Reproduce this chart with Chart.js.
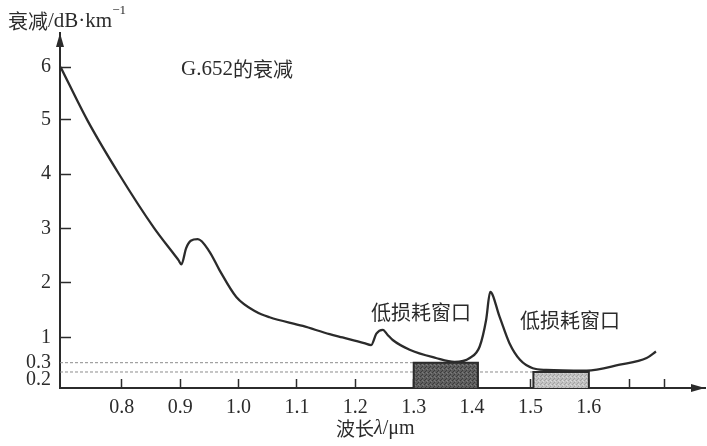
<!DOCTYPE html>
<html>
<head>
<meta charset="utf-8">
<script src="https://cdn.jsdelivr.net/npm/chart.js@4.4.1/dist/chart.umd.min.js"></script>
<style>
  html, body { margin: 0; padding: 0; background: #fff; }
  #wrap { width: 707px; height: 446px; position: relative; }
</style>
</head>
<body>
<div id="wrap"><canvas id="c" width="707" height="446"></canvas></div>
<script>
// G.652 fibre loss spectrum: wavelength (µm) and attenuation (dB/km)
const wavelength = [0.695, 0.741, 0.795, 0.855, 0.890, 0.897, 0.902, 0.910, 0.918, 0.930,
                    0.950, 0.967, 0.996, 1.030, 1.053, 1.110, 1.156, 1.178, 1.215, 1.227,
                    1.236, 1.247, 1.255, 1.264, 1.293, 1.338, 1.370, 1.396, 1.413, 1.424,
                    1.431, 1.447, 1.464, 1.482, 1.504, 1.527, 1.596, 1.653, 1.699, 1.715];
const attenuation = [6.0, 4.98, 4.0, 3.02, 2.52, 2.42, 2.34, 2.64, 2.78, 2.81,
                     2.58, 2.24, 1.74, 1.47, 1.37, 1.21, 1.06, 1.0, 0.845, 0.79,
                     1.07, 1.14, 1.05, 0.93, 0.66, 0.43, 0.32, 0.43, 0.75, 1.32,
                     1.83, 1.38, 0.84, 0.38, 0.24, 0.222, 0.214, 0.278, 0.43, 0.61];

// low-loss windows: wavelength span and loss level
const windowStart = [1.30, 1.505];
const windowEnd = [1.41, 1.60];
const windowLoss = [0.3, 0.2];
const windowName = ['低损耗窗口', '低损耗窗口'];

// axis ticks
const xTickValues = [0.8, 0.9, 1.0, 1.1, 1.2, 1.3, 1.4, 1.5, 1.6, 1.67, 1.73];
const xTickLabels = ['0.8', '0.9', '1.0', '1.1', '1.2', '1.3', '1.4', '1.5', '1.6', '', ''];
const yTickValues = [0.2, 0.3, 1, 2, 3, 4, 5, 6];
const yTickLabels = ['0.2', '0.3', '1', '2', '3', '4', '5', '6'];

// The attenuation axis is drawn stretched near the bottom: piecewise-linear
// mapping from value to the fraction of the axis height.
const yStopValue = [0, 0.2, 0.3, 1, 2, 3, 4, 5, 6, 6.63];
const yStopFrac  = [0, 0.0451, 0.0713, 0.1423, 0.2966, 0.4479, 0.6028, 0.7569, 0.9042, 1];

function interp(v, from, to) {
  let i = 1;
  while (i < from.length - 1 && v > from[i]) i++;
  const a = from[i - 1], b = from[i];
  return to[i - 1] + (v - a) / (b - a) * (to[i] - to[i - 1]);
}

class StretchedScale extends Chart.LinearScale {
  static id = 'stretched';
  static defaults = Chart.LinearScale.defaults;
  getPixelForValue(value) {
    return this.getPixelForDecimal(interp(value, yStopValue, yStopFrac));
  }
  getValueForPixel(pixel) {
    return interp(this.getDecimalForPixel(pixel), yStopFrac, yStopValue);
  }
}
Chart.register(StretchedScale);

const INK = '#2b2b2b';
const SERIF = '"Liberation Serif", "Times New Roman", serif';
const CJK = '"Noto Sans CJK SC", sans-serif';

// halftone-like fills for the two window boxes
function makePattern(base, dark, light) {
  const c = document.createElement('canvas');
  c.width = 4; c.height = 4;
  const g = c.getContext('2d');
  g.fillStyle = base; g.fillRect(0, 0, 4, 4);
  g.fillStyle = dark; g.fillRect(0, 0, 1, 1); g.fillRect(2, 2, 1, 1); g.fillRect(1, 3, 1, 1);
  g.fillStyle = light; g.fillRect(3, 1, 1, 1); g.fillRect(2, 0, 1, 1);
  return g.createPattern(c, 'repeat');
}
const ctx = document.getElementById('c').getContext('2d');
const windowFill = [makePattern('#5e5e5e', '#3c3c3c', '#7a7a7a'),
                    makePattern('#c2c2c2', '#a2a2a2', '#dadada')];

const xMin = 0.694, xMax = 1.799;

const datasets = [{
  data: wavelength.map((x, i) => ({ x, y: attenuation[i] })),
  borderColor: INK,
  borderWidth: 2.3,
  pointRadius: 0,
  fill: false,
  cubicInterpolationMode: 'monotone',
  order: 0
}];

windowStart.forEach((a, i) => {
  const b = windowEnd[i], lvl = windowLoss[i];
  datasets.push({
    data: [{ x: a, y: 0 }, { x: a, y: lvl }, { x: b, y: lvl }, { x: b, y: 0 }],
    borderColor: INK,
    borderWidth: 2,
    backgroundColor: windowFill[i],
    fill: 'origin',
    pointRadius: 0,
    tension: 0,
    order: 1
  });
  // dotted guide from the axis to the window at its loss level
  datasets.push({
    data: [{ x: xMin, y: lvl }, { x: a, y: lvl }],
    borderColor: '#8c8c8c',
    borderWidth: 1,
    borderDash: [3, 2],
    pointRadius: 0,
    fill: false,
    tension: 0,
    order: 2
  });
});

// mixed-font text runs drawn left to right
function drawRuns(g, runs, x, y) {
  g.textBaseline = 'middle';
  g.textAlign = 'left';
  for (const r of runs) {
    g.font = r.font;
    g.fillText(r.text, x, y + (r.dy || 0));
    x += g.measureText(r.text).width;
  }
}

const annotate = {
  id: 'annotate',
  afterDraw(chart) {
    const g = chart.ctx, a = chart.chartArea;
    g.save();
    g.fillStyle = INK;
    // axis arrowheads
    g.beginPath();
    g.moveTo(a.left, a.top);
    g.lineTo(a.left - 4, a.top + 14);
    g.lineTo(a.left + 4, a.top + 14);
    g.closePath(); g.fill();
    g.beginPath();
    g.moveTo(a.right, a.bottom);
    g.lineTo(a.right - 14, a.bottom - 4);
    g.lineTo(a.right - 14, a.bottom + 4);
    g.closePath(); g.fill();

    // axis titles
    drawRuns(g, [
      { text: '衰减', font: '20px ' + CJK },
      { text: '/dB·km', font: '21px ' + SERIF },
      { text: '−1', font: '13px ' + SERIF, dy: -10 }
    ], 8, 21);
    drawRuns(g, [
      { text: '波长', font: '19px ' + CJK },
      { text: 'λ', font: 'italic 20px ' + SERIF },
      { text: '/μm', font: '20px ' + SERIF }
    ], 336, 429);

    // curve caption
    drawRuns(g, [
      { text: 'G.652', font: '21px ' + SERIF },
      { text: '的衰减', font: '20px ' + CJK }
    ], 181, 69);

    // window captions
    g.font = '20px ' + CJK;
    g.textAlign = 'center';
    g.textBaseline = 'middle';
    g.fillText(windowName[0], 421, 312);
    g.fillText(windowName[1], 570, 320);
    g.restore();
  }
};

new Chart(ctx, {
  type: 'line',
  data: { datasets },
  options: {
    responsive: false,
    animation: false,
    devicePixelRatio: 1,
    layout: { padding: { top: 33, right: 2, left: 0, bottom: 0 } },
    plugins: { legend: { display: false }, tooltip: { enabled: false } },
    scales: {
      x: {
        type: 'linear',
        position: 'bottom',
        min: xMin,
        max: xMax,
        afterBuildTicks: s => { s.ticks = xTickValues.map(value => ({ value })); },
        afterFit: s => { s.height = 58; },
        border: { display: true, color: INK, width: 2 },
        grid: { drawOnChartArea: false, drawTicks: true, tickLength: -9, tickColor: INK, tickWidth: 1.5 },
        ticks: {
          autoSkip: false, maxRotation: 0, padding: 17, color: INK,
          font: { family: SERIF, size: 20 },
          callback: (v, i) => xTickLabels[i]
        }
      },
      y: {
        type: 'stretched',
        min: 0,
        max: 6.63,
        afterBuildTicks: s => { s.ticks = yTickValues.map(value => ({ value })); },
        afterFit: s => { s.width = 60; },
        border: { display: true, color: INK, width: 2 },
        grid: {
          drawOnChartArea: false, drawTicks: true, tickLength: -11, tickWidth: 1.5,
          tickColor: c => (c.tick && c.tick.value < 1 ? 'rgba(0,0,0,0)' : INK)
        },
        ticks: {
          autoSkip: false, padding: 20, color: INK,
          font: { family: SERIF, size: 20, lineHeight: 0.8 },
          // the 0.2 label sits half a line lower so it clears the 0.3 label
          callback: (v, i) => (v < 0.25 ? ['', yTickLabels[i]] : yTickLabels[i])
        }
      }
    }
  },
  plugins: [annotate]
});
</script>
</body>
</html>
